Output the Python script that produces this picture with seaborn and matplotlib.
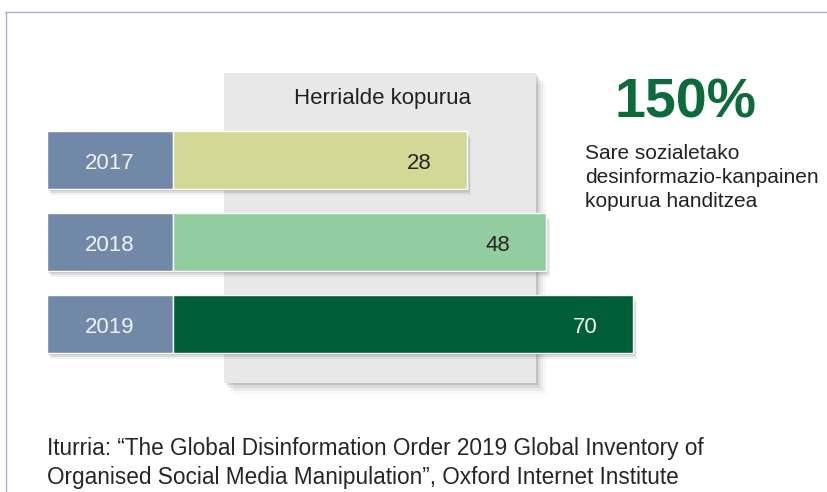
import pandas as pd
import seaborn as sns
import matplotlib.pyplot as plt
import matplotlib.patheffects as pe
from matplotlib.patches import Rectangle
from matplotlib.lines import Line2D

# Datuak
urteak = ['2017', '2018', '2019']
herrialdeak = [28, 48, 70]
goiburua = 'Herrialde kopurua'
portzentaia = '150%'
azalpena = ['Sare sozialetako', 'desinformazio-kanpainen', 'kopurua handitzea']
iturria = ['Iturria: \u201cThe Global Disinformation Order 2019 Global Inventory of',
           'Organised Social Media Manipulation\u201d, Oxford Internet Institute']

# Koloreak
bar_koloreak = ['#d3d897', '#92cca1', '#005f37']
balio_koloreak = ['#262626', '#262626', '#f2f2f2']
urte_kolorea = '#7189a7'
berdea = '#0d6b3b'

tabla = pd.DataFrame({'urtea': urteak, 'herrialdeak': herrialdeak})

sns.set_theme(style='white')
plt.rcParams['font.family'] = ['Liberation Sans', 'DejaVu Sans']

W, H = 827, 492
fig = plt.figure(figsize=(8.27, 4.92), dpi=100)


def fx(px):
    return px / W


def fy(py):
    return 1 - py / H


def itzala(geruzak):
    # shadow layers + the patch itself
    efektuak = [pe.SimplePatchShadow(offset=o, shadow_rgbFace='black', alpha=a) for o, a in geruzak]
    return efektuak + [pe.Normal()]


# Markoa (goiko eta ezkerreko lerroak)
fig.add_artist(Line2D([fx(5), 1], [fy(12), fy(12)], transform=fig.transFigure, color='#aab3c5', lw=1))
fig.add_artist(Line2D([fx(6), fx(6)], [fy(12), 0], transform=fig.transFigure, color='#aab3c5', lw=1))

# Panel grisa
panela = Rectangle((fx(224), fy(383)), fx(536) - fx(224), (383 - 73) / H,
                   transform=fig.transFigure, facecolor='#e8e8e8', edgecolor='none', zorder=0.5)
panela.set_path_effects(itzala([((1.5, -1.5), 0.10), ((3, -3.5), 0.08), ((5, -5.5), 0.05), ((7, -8), 0.03)]))
fig.add_artist(panela)
fig.text(fx(383), fy(104), goiburua, ha='center', va='baseline', fontsize=16, color='#222222', zorder=3)

# Barrak
ax = fig.add_axes([fx(47), fy(365), fx(827) - fx(47), 246 / H])
ax.set_zorder(2)

XMIN, BAR_START, XMAX = -78.3, -46.4, 119.1

sns.barplot(data=tabla, x='herrialdeak', y='urtea', hue='urtea', palette=bar_koloreak,
            saturation=1, width=0.7, legend=False, ax=ax, zorder=2)
for p in ax.patches:
    # barrak urte-kutxaren ondotik hasi
    p.set_width(p.get_width() - BAR_START)
    p.set_x(BAR_START)
    p.set_path_effects(itzala([((1, -1.5), 0.14), ((2, -3), 0.09), ((3, -4.5), 0.05)]))

urte_kutxak = ax.barh(range(len(urteak)), BAR_START - XMIN, left=XMIN, height=0.7,
                      color=urte_kolorea, zorder=1)
for p in urte_kutxak:
    p.set_path_effects(itzala([((1, -1.5), 0.14), ((2, -3), 0.09), ((3, -4.5), 0.05)]))

for i, (u, v) in enumerate(zip(urteak, herrialdeak)):
    ax.text((XMIN + BAR_START) / 2, i + 0.104, u, ha='center', va='baseline',
            fontsize=16, color='#f2f2f2', zorder=5)
    ax.text(v - 9, i + 0.104, str(v), ha='right', va='baseline',
            fontsize=16, color=balio_koloreak[i], zorder=5)

ax.set_xlim(XMIN, XMAX)
ax.set_ylim(2.5, -0.5)
ax.axis('off')

# Eskuineko testua
fig.text(fx(614), fy(117), portzentaia, ha='left', va='baseline', fontsize=40,
         fontweight='bold', color=berdea, family=['Liberation Sans Narrow', 'Liberation Sans'])
for k, lerroa in enumerate(azalpena):
    fig.text(fx(585), fy(159 + 24 * k), lerroa, ha='left', va='baseline', fontsize=15, color='#222222')

# Iturria
for k, lerroa in enumerate(iturria):
    fig.text(fx(47), fy(455 + 29 * k), lerroa, ha='left', va='baseline', fontsize=16.3, color='#262626')

fig.savefig('out.png', dpi=100)
